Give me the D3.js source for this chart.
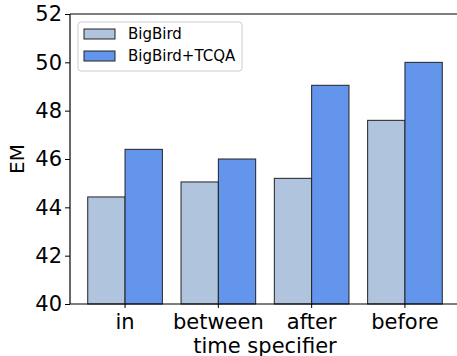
<!DOCTYPE html>
<html>
<head>
<meta charset="utf-8">
<script src="https://cdn.jsdelivr.net/npm/d3@7"></script>
<style>
  body { margin: 0; background: #fff; }
  text { font-family: "DejaVu Sans", sans-serif; }
</style>
</head>
<body>
<svg id="chart" width="457" height="356"></svg>
<script>
const categories = ['in', 'between', 'after', 'before'];
const series = ['BigBird', 'BigBird+TCQA'];
const bigbird = [44.43, 45.05, 45.2, 47.6];
const tcqa = [46.4, 46.0, 49.05, 50.0];
const yTicks = [40, 42, 44, 46, 48, 50, 52];
const colors = ['#b0c4de', '#6495ed'];

const svg = d3.select('#chart');
const margin = { left: 70, top: 14, right: 0, bottom: 52 };
const W = 457, H = 356;

// 分组中心间距 ~93px
const x = d3.scaleBand().domain(categories)
  .range([78.4, 451.6]).padding(0);
const y = d3.scaleLinear().domain([40, 52]).range([H - margin.bottom, margin.top]);

const g = svg.append('g');
const data = categories.map((c, i) => ({ c, vals: [bigbird[i], tcqa[i]] }));
const bw = x.bandwidth() * 0.4;

g.selectAll('g.grp').data(data).join('g')
  .attr('class', 'grp')
  .each(function(d) {
    const cx = x(d.c) + x.bandwidth() / 2;
    d3.select(this).selectAll('rect').data(d.vals).join('rect')
      .attr('x', (v, j) => cx - bw + j * bw)
      .attr('y', v => y(v))
      .attr('width', bw)
      .attr('height', v => y(40) - y(v))
      .attr('fill', (v, j) => colors[j])
      .attr('stroke', '#222')
      .attr('stroke-width', 1);
  });

// axes
const yAxis = d3.axisLeft(y).tickValues(yTicks).tickSize(5).tickPadding(3);
const ya = svg.append('g').attr('transform', `translate(${margin.left},0)`).call(yAxis);
ya.select('.domain').remove();
ya.selectAll('text').style('font-size', '21px').attr('fill', '#000');

const xAxis = d3.axisBottom(x).tickSize(4).tickPadding(5)
  .tickFormat(d => d);
const xa = svg.append('g').attr('transform', `translate(0,${y(40)})`).call(xAxis);
xa.select('.domain').remove();
xa.selectAll('.tick').attr('transform', d => `translate(${x(d) + x.bandwidth() / 2},0)`);
xa.selectAll('text').style('font-size', '21px').attr('fill', '#000')
  .attr('dy', null).attr('y', 25);

// spines
svg.append('line').attr('x1', margin.left).attr('x2', margin.left)
  .attr('y1', y(40)).attr('y2', y(52)).attr('stroke', '#000').attr('stroke-width', 1.2);
svg.append('line').attr('x1', margin.left).attr('x2', W)
  .attr('y1', y(40)).attr('y2', y(40)).attr('stroke', '#000').attr('stroke-width', 1.2);
svg.append('line').attr('x1', margin.left).attr('x2', W)
  .attr('y1', y(52)).attr('y2', y(52)).attr('stroke', '#000').attr('stroke-width', 1.2);

// axis labels
svg.append('text').attr('transform', `translate(24,${(y(40) + y(52)) / 2}) rotate(-90)`)
  .attr('text-anchor', 'middle').style('font-size', '20px').text('EM');
svg.append('text').attr('x', 265).attr('y', 352.5)
  .attr('text-anchor', 'middle').style('font-size', '21px').text('time specifier');

// legend
const lg = svg.append('g').attr('transform', 'translate(78,22)');
lg.append('rect').attr('width', 164).attr('height', 49).attr('rx', 3)
  .attr('fill', '#fff').attr('fill-opacity', 0.8).attr('stroke', '#ccc');
series.forEach((s, i) => {
  lg.append('rect').attr('x', 6).attr('y', 7 + i * 22).attr('width', 31).attr('height', 10)
    .attr('fill', colors[i]).attr('stroke', '#222');
  lg.append('text').attr('x', 50).attr('y', 17 + i * 22)
    .style('font-size', '15px').text(s);
});
</script>
</body>
</html>
